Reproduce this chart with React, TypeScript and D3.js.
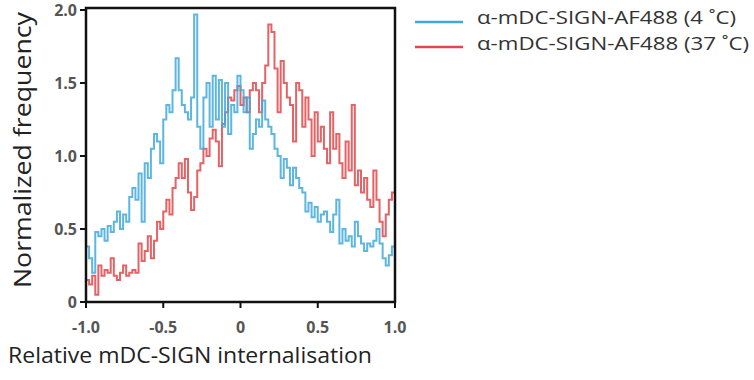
import React from "react";
import * as d3 from "d3";

const binStart = -1.0;
const binWidth = 0.02;

const blue4C = [
  0.38, 0.30, 0.20, 0.48, 0.45, 0.50, 0.42, 0.52, 0.48, 0.55,
  0.62, 0.50, 0.60, 0.55, 0.72, 0.78, 0.70, 0.88, 0.55, 0.95,
  0.85, 1.05, 1.15, 1.10, 0.95, 1.25, 1.35, 1.30, 1.45, 1.67,
  1.45, 1.35, 1.30, 1.25, 1.40, 1.97, 1.20, 1.05, 1.40, 1.50,
  1.20, 1.55, 1.25, 1.52, 1.20, 1.50, 1.15, 1.35, 1.30, 1.55,
  1.45, 1.30, 1.40, 1.05, 1.15, 1.25, 1.20, 1.38, 1.25, 1.20,
  1.15, 1.05, 1.00, 0.85, 0.98, 0.92, 0.80, 0.92, 0.85, 0.78,
  0.75, 0.62, 0.68, 0.58, 0.65, 0.55, 0.60, 0.62, 0.55, 0.48,
  0.60, 0.70, 0.40, 0.50, 0.42, 0.45, 0.38, 0.55, 0.45, 0.40,
  0.35, 0.40, 0.38, 0.42, 0.50, 0.40, 0.30, 0.25, 0.32, 0.38,
];

const red37C = [
  0.15, 0.12, 0.18, 0.05, 0.25, 0.18, 0.22, 0.20, 0.30, 0.18,
  0.15, 0.20, 0.25, 0.18, 0.20, 0.22, 0.20, 0.40, 0.28, 0.35,
  0.45, 0.30, 0.42, 0.55, 0.50, 0.62, 0.70, 0.60, 0.78, 0.85,
  0.95, 0.85, 0.98, 0.75, 0.63, 0.72, 0.90, 0.95, 1.05, 1.00,
  1.12, 1.18, 1.10, 0.93, 1.22, 1.30, 1.40, 1.38, 1.45, 1.48,
  1.35, 1.40, 1.30, 1.45, 1.50, 1.45, 1.30, 1.50, 1.62, 1.90,
  1.85, 1.60, 1.30, 1.65, 1.50, 1.40, 1.35, 1.10, 1.50, 1.45,
  1.20, 1.40, 1.25, 1.00, 1.30, 1.10, 1.20, 1.05, 0.95, 1.30,
  1.05, 1.15, 0.95, 0.85, 1.10, 0.90, 1.35, 0.80, 0.90, 0.75,
  0.85, 0.70, 0.65, 0.90, 0.70, 0.55, 0.45, 0.60, 0.70, 0.75,
];

const xTicks = [-1.0, -0.5, 0, 0.5, 1.0];
const xTickLabels = ["-1.0", "-0.5", "0", "0.5", "1.0"];
const yTicks = [0, 0.5, 1.0, 1.5, 2.0];
const yTickLabels = ["0", "0.5", "1.0", "1.5", "2.0"];

const seriesNames = ["α-mDC-SIGN-AF488 (4 ˚C)", "α-mDC-SIGN-AF488 (37 ˚C)"];
const seriesColors = ["#3fa9db", "#e0464a"];

const xTitle = "Relative mDC-SIGN internalisation";
const yTitle = "Normalized frequency";

export default function App() {
  const left = 86, right = 395, top = 8, bottom = 302;
  const x = d3.scaleLinear().domain([-1, 1]).range([left, right]);
  const y = d3.scaleLinear().domain([0, 2.0]).range([bottom, 10]);

  const toPoints = (vals: number[], endToZero: boolean) => {
    const pts: [number, number][] = vals.map((v, i) => [binStart + i * binWidth, v]);
    pts.push([1.0, vals[vals.length - 1]]);
    if (endToZero) pts.push([1.0, 0]);
    return pts;
  };

  const line = d3
    .line<[number, number]>()
    .x((d) => x(d[0]))
    .y((d) => y(d[1]))
    .curve(d3.curveStepAfter);

  const series = [
    { vals: red37C, color: seriesColors[1], end: false },
    { vals: blue4C, color: seriesColors[0], end: true },
  ];

  const font = "'Open Sans', 'Noto Sans', sans-serif";

  return (
    <svg
      width={754}
      height={380}
      style={{ position: "absolute", left: 0, top: 0, background: "#fff" }}
    >
      <rect x={0} y={0} width={754} height={380} fill="#fff" />
      <defs>
        <clipPath id="plotclip">
          <rect x={left} y={top} width={right - left} height={bottom - top} />
        </clipPath>
      </defs>
      <g clipPath="url(#plotclip)">
        {series.map((s, i) => (
          <path
            key={i}
            d={line(toPoints(s.vals, s.end)) || ""}
            fill="none"
            stroke={s.color}
            strokeWidth={2}
            strokeOpacity={0.85}
          />
        ))}
      </g>
      <rect
        x={left}
        y={top}
        width={right - left}
        height={bottom - top}
        fill="none"
        stroke="#111"
        strokeWidth={2.5}
      />
      {yTicks.map((t, i) => (
        <g key={"y" + i}>
          <line x1={left - 6} x2={left} y1={y(t)} y2={y(t)} stroke="#111" strokeWidth={2} />
          <text
            x={left - 9}
            y={y(t)}
            dy="0.35em"
            textAnchor="end"
            fontFamily={font}
            fontWeight="bold"
            fontSize={16}
            fill="#555"
          >
            {yTickLabels[i]}
          </text>
        </g>
      ))}
      {xTicks.map((t, i) => (
        <g key={"x" + i}>
          <line x1={x(t)} x2={x(t)} y1={bottom} y2={bottom + 6} stroke="#111" strokeWidth={2} />
          <text
            x={x(t)}
            y={327}
            dy="0.35em"
            textAnchor="middle"
            fontFamily={font}
            fontWeight="bold"
            fontSize={16}
            fill="#555"
          >
            {xTickLabels[i]}
          </text>
        </g>
      ))}
      <text
        x={8}
        y={363}
        fontFamily={font}
        fontSize={22}
        fill="#222"
        textLength={364}
        lengthAdjust="spacingAndGlyphs"
      >
        {xTitle}
      </text>
      <text
        transform={`translate(31,${150}) rotate(-90)`}
        textAnchor="middle"
        fontFamily={font}
        fontSize={24}
        fill="#222"
        textLength={276}
        lengthAdjust="spacingAndGlyphs"
      >
        {yTitle}
      </text>
      {seriesNames.map((n, i) => (
        <g key={"l" + i}>
          <line
            x1={415}
            x2={463}
            y1={22 + i * 25}
            y2={22 + i * 25}
            stroke={seriesColors[i]}
            strokeWidth={2.5}
          />
          <text
            x={477}
            y={17 + i * 26}
            dy="0.35em"
            fontFamily={font}
            fontSize={19}
            fill="#333"
            textLength={i === 0 ? 259 : 272}
            lengthAdjust="spacingAndGlyphs"
          >
            {n}
          </text>
        </g>
      ))}
    </svg>
  );
}
